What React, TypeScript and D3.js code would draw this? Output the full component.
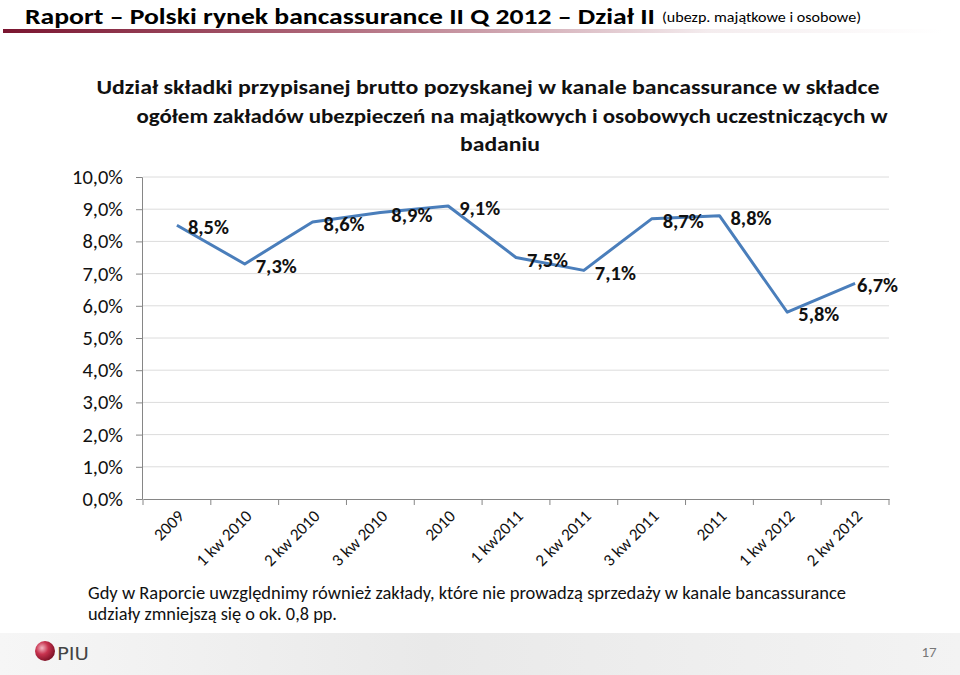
import * as d3 from 'd3';
import React, { useEffect, useRef } from 'react';

const categories = [
  "2009", "1 kw 2010", "2 kw 2010", "3 kw 2010", "2010", "1 kw2011",
  "2 kw 2011", "3 kw 2011", "2011", "1 kw 2012", "2 kw 2012"
];
const shares = [8.5, 7.3, 8.6, 8.9, 9.1, 7.5, 7.1, 8.7, 8.8, 5.8, 6.7];
const yTicks = [0, 1, 2, 3, 4, 5, 6, 7, 8, 9, 10];

const titleLines = [
  "Udział składki przypisanej brutto pozyskanej w kanale bancassurance w składce",
  "ogółem zakładów ubezpieczeń na majątkowych i osobowych uczestniczących w",
  "badaniu"
];
const noteLines = [
  "Gdy w Raporcie uwzględnimy również zakłady, które nie prowadzą sprzedaży w kanale bancassurance",
  "udziały zmniejszą się o ok. 0,8 pp."
];

const W = 960;
const H = 675;
const font = "Carlito, Calibri, 'Open Sans', sans-serif";
const fmt = (v: number) => v.toFixed(1).replace('.', ',') + '%';

export default function App() {
  const svgRef = useRef<SVGSVGElement>(null);

  useEffect(() => {
    const svg = d3.select(svgRef.current);
    svg.selectAll("*").remove();

    const defs = svg.append("defs");
    const hdr = defs.append("linearGradient").attr("id", "hdr");
    hdr.append("stop").attr("offset", "0%").attr("stop-color", "#7a1530");
    hdr.append("stop").attr("offset", "35%").attr("stop-color", "#b06a7c");
    hdr.append("stop").attr("offset", "75%").attr("stop-color", "#f4ecee");
    hdr.append("stop").attr("offset", "100%").attr("stop-color", "#ffffff");
    const ftr = defs.append("linearGradient").attr("id", "ftr");
    ftr.append("stop").attr("offset", "0%").attr("stop-color", "#f6f6f6");
    ftr.append("stop").attr("offset", "45%").attr("stop-color", "#e9e9e9");
    ftr.append("stop").attr("offset", "100%").attr("stop-color", "#f3f3f3");
    const ball = defs.append("radialGradient").attr("id", "ball")
      .attr("cx", "35%").attr("cy", "35%").attr("r", "70%");
    ball.append("stop").attr("offset", "0%").attr("stop-color", "#f3b7c3");
    ball.append("stop").attr("offset", "45%").attr("stop-color", "#c8334f");
    ball.append("stop").attr("offset", "100%").attr("stop-color", "#7a1024");

    svg.append("rect").attr("width", W).attr("height", H).attr("fill", "#fff");

    // header
    svg.append("text")
      .attr("x", 25).attr("y", 24)
      .attr("font-family", font).attr("font-weight", "bold")
      .attr("font-size", 23).attr("fill", "#000")
      .attr("textLength", 630).attr("lengthAdjust", "spacingAndGlyphs")
      .text("Raport – Polski rynek bancassurance II Q 2012 – Dział II");
    svg.append("text")
      .attr("x", 662).attr("y", 22)
      .attr("font-family", font).attr("font-size", 15).attr("fill", "#000")
      .attr("textLength", 199).attr("lengthAdjust", "spacingAndGlyphs")
      .text("(ubezp. majątkowe i osobowe)");
    svg.append("rect").attr("x", 3).attr("y", 29).attr("width", 940).attr("height", 4)
      .attr("fill", "url(#hdr)");

    // footer
    svg.append("rect").attr("x", 0).attr("y", 633).attr("width", W).attr("height", 42)
      .attr("fill", "url(#ftr)");
    svg.append("circle").attr("cx", 45).attr("cy", 651).attr("r", 10).attr("fill", "url(#ball)");
    svg.append("text").attr("x", 57).attr("y", 660)
      .attr("font-family", "'DejaVu Sans Condensed', sans-serif").attr("font-size", 18)
      .attr("fill", "#444").attr("textLength", 32).attr("lengthAdjust", "spacingAndGlyphs")
      .text("PIU");
    svg.append("text").attr("x", 929).attr("y", 657).attr("text-anchor", "middle")
      .attr("font-family", font).attr("font-size", 15).attr("fill", "#777")
      .text("17");

    // chart title
    const titleSpans = [[488, 783], [512, 751], [500, 80]];
    const title = svg.append("text")
      .attr("font-family", font).attr("font-weight", "bold")
      .attr("font-size", 21).attr("fill", "#111").attr("text-anchor", "middle");
    titleLines.forEach((t, i) => {
      title.append("tspan")
        .attr("x", titleSpans[i][0]).attr("y", 94 + i * 28.5)
        .attr("textLength", titleSpans[i][1]).attr("lengthAdjust", "spacingAndGlyphs")
        .text(t);
    });

    // scales
    const x = d3.scaleBand<string>().domain(categories).range([143, 889]);
    const y = d3.scaleLinear().domain([0, 10]).range([499, 177]);

    // gridlines
    svg.append("g").selectAll("line")
      .data(yTicks.filter(t => t > 0))
      .join("line")
      .attr("x1", 143).attr("x2", 889)
      .attr("y1", d => y(d)).attr("y2", d => y(d))
      .attr("stroke", "#dcdcdc").attr("stroke-width", 1);

    // y axis
    const yAxis = d3.axisLeft(y)
      .tickValues(yTicks)
      .tickSize(6)
      .tickPadding(13)
      .tickFormat(d => fmt(+d));
    const yg = svg.append("g").attr("transform", "translate(142,0)").call(yAxis);
    yg.select(".domain").attr("stroke", "#868686").attr("stroke-width", 1);
    yg.selectAll("line").attr("stroke", "#868686");
    yg.selectAll("text").attr("font-family", font).attr("font-size", 20.5).attr("fill", "#111");

    // x axis
    const xAxis = d3.axisBottom(x).tickSize(6).tickSizeOuter(0).tickFormat(() => "");
    const xg = svg.append("g").attr("transform", "translate(0,499)").call(xAxis);
    xg.select(".domain").attr("stroke", "#868686");
    xg.selectAll(".tick").remove();
    xg.selectAll("line.edge")
      .data(d3.range(categories.length + 1))
      .join("line")
      .attr("x1", i => 143 + i * x.step()).attr("x2", i => 143 + i * x.step())
      .attr("y1", 0).attr("y2", 6).attr("stroke", "#868686");
    xg.selectAll("text.cat")
      .data(categories)
      .join("text")
      .attr("class", "cat")
      .attr("transform", d => `translate(${(x(d) ?? 0) + x.bandwidth() / 2 + 4},${14}) rotate(-45)`)
      .attr("text-anchor", "end")
      .attr("dy", "0.35em")
      .attr("font-family", font).attr("font-size", 17).attr("fill", "#111")
      .text(d => d);

    // line
    const pts = categories.map((c, i) => ({ c, v: shares[i] }));
    const line = d3.line<{ c: string; v: number }>()
      .x(d => (x(d.c) ?? 0) + x.bandwidth() / 2)
      .y(d => y(d.v));
    svg.append("path").datum(pts)
      .attr("d", line)
      .attr("fill", "none")
      .attr("stroke", "#4a7ebb")
      .attr("stroke-width", 3)
      .attr("stroke-linejoin", "round");

    // labels
    svg.append("g").selectAll("text")
      .data(pts)
      .join("text")
      .attr("x", d => Math.min((x(d.c) ?? 0) + x.bandwidth() / 2 + 11, 857))
      .attr("y", d => y(d.v) + 2)
      .attr("dy", "0.35em")
      .attr("font-family", font).attr("font-weight", "bold")
      .attr("font-size", 20.5).attr("fill", "#111")
      .text(d => fmt(d.v));

    // note
    const noteLens = [758, 249];
    const note = svg.append("text")
      .attr("font-family", font).attr("font-size", 18).attr("fill", "#111");
    noteLines.forEach((t, i) => {
      note.append("tspan").attr("x", 88).attr("y", 599 + i * 21)
        .attr("textLength", noteLens[i]).attr("lengthAdjust", "spacingAndGlyphs")
        .text(t);
    });
  }, []);

  return (
    <svg ref={svgRef} width={W} height={H}
      style={{ display: 'block', position: 'absolute', left: 0, top: 0 }} />
  );
}
